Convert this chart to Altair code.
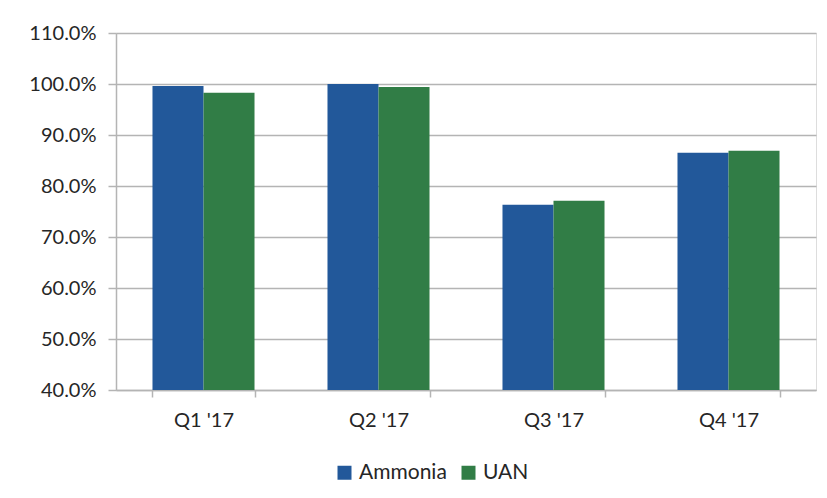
import altair as alt
import pandas as pd

quarters = ["Q1 '17", "Q2 '17", "Q3 '17", "Q4 '17"]
series = ["Ammonia", "UAN"]
ammonia = [0.996, 1.000, 0.763, 0.865]
uan = [0.983, 0.994, 0.771, 0.869]
y_ticks = [0.4, 0.5, 0.6, 0.7, 0.8, 0.9, 1.0, 1.1]
colors = ["#22589A", "#317D46"]

rows = []
for q, a, u in zip(quarters, ammonia, uan):
    rows.append({"quarter": q, "series": "Ammonia", "value": a})
    rows.append({"quarter": q, "series": "UAN", "value": u})
df = pd.DataFrame(rows)

font = "Lato"
grid_color = "#B4B4B4"
text_color = "#262626"

chart = alt.Chart(df).mark_bar().encode(
    x=alt.X(
        "quarter:N",
        sort=quarters,
        title=None,
        scale=alt.Scale(paddingInner=0.417, paddingOuter=0.2085),
        axis=alt.Axis(
            labelAngle=0,
            tickBand="extent",
            grid=False,
            domainColor=grid_color,
            domainWidth=1.5,
            tickColor=grid_color,
            tickWidth=1.5,
            tickSize=7,
            labelPadding=13,
            labelFontSize=20,
            labelFont=font,
            labelColor=text_color,
        ),
    ),
    xOffset=alt.XOffset("series:N", sort=series),
    y=alt.Y(
        "value:Q",
        title=None,
        scale=alt.Scale(domain=[0.4, 1.1], zero=False, nice=False),
        axis=alt.Axis(
            values=y_ticks,
            format=".1%",
            grid=True,
            gridColor=grid_color,
            gridWidth=1.5,
            domainColor=grid_color,
            domainWidth=1.5,
            tickColor=grid_color,
            tickWidth=1.5,
            tickSize=8,
            labelPadding=12,
            labelFontSize=20,
            labelFont=font,
            labelColor=text_color,
        ),
    ),
    y2=alt.datum(0.4),
    color=alt.Color(
        "series:N",
        sort=series,
        scale=alt.Scale(domain=series, range=colors),
        legend=alt.Legend(
            title=None,
            orient="none",
            direction="horizontal",
            legendX=218,
            legendY=429,
            symbolType="square",
            symbolSize=196,
            symbolStrokeWidth=0,
            labelFontSize=21,
            labelFont=font,
            labelColor=text_color,
            labelOffset=4,
            columnPadding=11,
            padding=0,
        ),
    ),
).properties(
    width=700,
    height=357,
    autosize=alt.AutoSizeParams(type="none"),
    padding={"left": 108, "top": 25, "right": 3, "bottom": 95},
).configure_view(stroke=None).configure(background="white")

chart.save("out.html", embed_options={"renderer": "svg", "actions": False})
